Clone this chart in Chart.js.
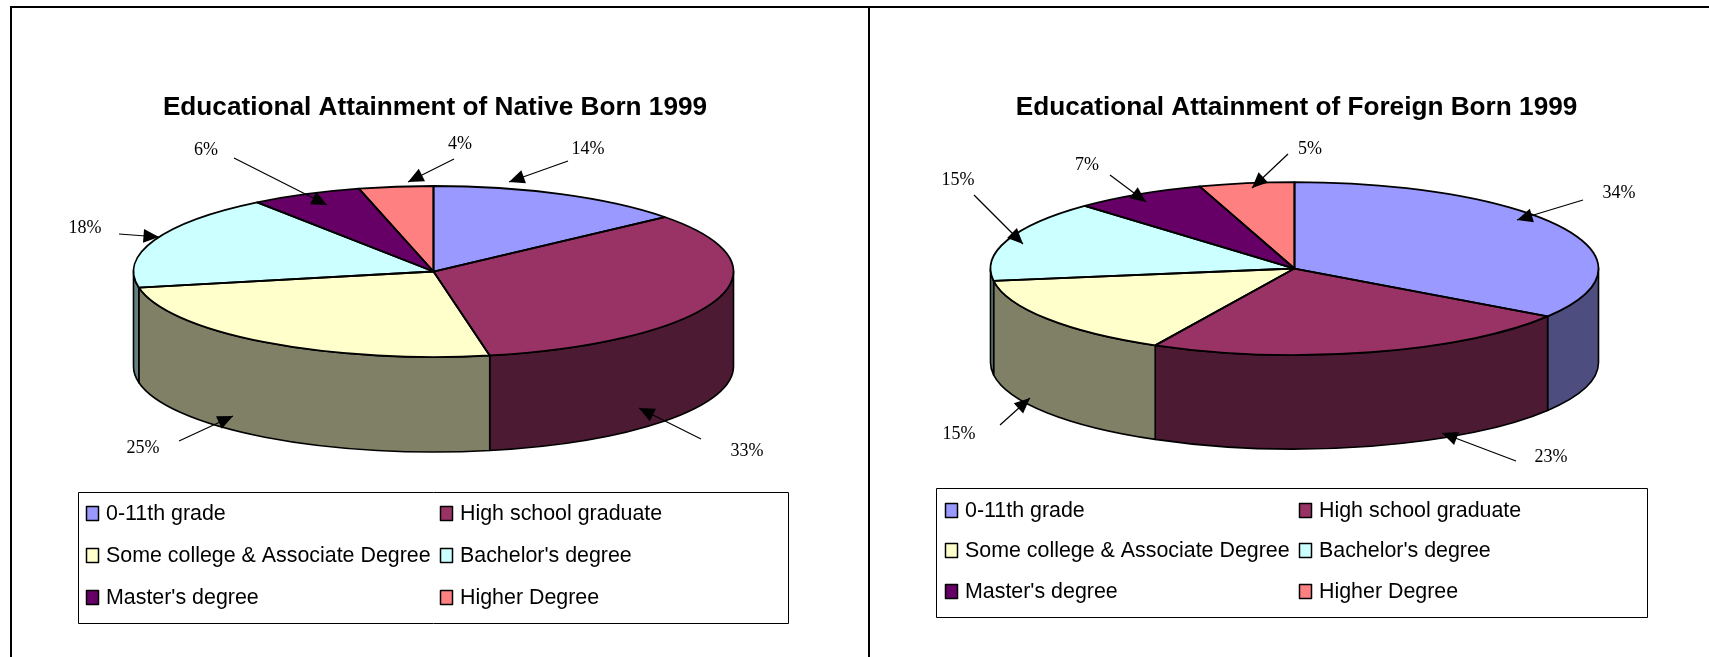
<!DOCTYPE html>
<html>
<head>
<meta charset="utf-8">
<script src="https://cdn.jsdelivr.net/npm/chart.js@4"></script>
<style>
  body { margin: 0; background: #fff; width: 1709px; height: 657px; overflow: hidden; position: relative; }
  canvas { position: absolute; top: 0; }
  .rule { position: absolute; background: #000; }
</style>
</head>
<body>
<div class="rule" style="left:10px;top:6px;width:1699px;height:2px"></div>
<div class="rule" style="left:10px;top:6px;width:2px;height:651px"></div>
<div class="rule" style="left:868px;top:6px;width:2px;height:651px"></div>
<canvas id="native" width="868" height="657" style="left:0"></canvas>
<canvas id="foreign" width="839" height="657" style="left:870px"></canvas>
<script>
const categories = ['0-11th grade', 'High school graduate', 'Some college & Associate Degree',
  "Bachelor's degree", "Master's degree", 'Higher Degree'];
const nativeValues = [14, 33, 25, 18, 6, 4];
const foreignValues = [34, 23, 15, 15, 7, 5];
const colors = ['#9999ff', '#993366', '#ffffcc', '#ccffff', '#660066', '#ff8080'];

// annotation layout, canvas px: [label x, label y, arrow from x, from y, tip x, tip y]
const nativeCallouts = [
  [588, 149, 568, 161, 509, 182],
  [747, 451, 701, 439, 639, 408],
  [143, 448, 179, 441, 233, 416],
  [85, 228, 119, 234, 159, 237],
  [206, 150, 234, 158, 327, 205],
  [460, 144, 454, 159, 408, 182]
];
const foreignCallouts = [
  [749, 193, 713, 200, 647, 220],
  [681, 457, 646, 461, 572, 433],
  [89, 434, 130, 425, 160, 398],
  [88, 180, 104, 195, 153, 244],
  [217, 165, 240, 175, 276, 202],
  [440, 149, 418, 154, 382, 188]
];

function darker(hex) {
  const n = parseInt(hex.slice(1), 16);
  return 'rgb(' + (n >> 16) / 2 + ',' + ((n >> 8) & 255) / 2 + ',' + (n & 255) / 2 + ')';
}

// ellipse path for a slice, stroked afterwards so the line keeps an even width
function ellipseArc(ctx, arc, squash, from, to, yOff, back) {
  ctx.ellipse(arc.x, arc.y + yOff, arc.outerRadius, arc.outerRadius * squash, 0, from, to, back);
}

const pie3d = {
  id: 'pie3d',
  afterLayout(chart, args, opts) {
    chart.titleBlock.left += opts.titleShift;
    chart.titleBlock.right += opts.titleShift;
  },
  beforeDatasetsDraw(chart, args, opts) {
    const ctx = chart.ctx;
    const arcs = chart.getDatasetMeta(0).data;
    ctx.lineWidth = 1.6;
    ctx.strokeStyle = '#000';
    ctx.lineJoin = 'round';
    // side wall, only the front half of the ellipse can be seen
    arcs.forEach((arc, i) => {
      const from = Math.max(arc.startAngle, 0);
      const to = Math.min(arc.endAngle, Math.PI);
      if (to <= from) return;
      ctx.beginPath();
      ellipseArc(ctx, arc, opts.squash, from, to, 0, false);
      ellipseArc(ctx, arc, opts.squash, to, from, opts.depth, true);
      ctx.closePath();
      ctx.fillStyle = darker(colors[i]);
      ctx.fill();
      ctx.stroke();
    });
    const a = arcs[0];
    ctx.save();
    ctx.translate(a.x, a.y);
    ctx.scale(1, opts.squash);
    ctx.translate(-a.x, -a.y);
  },
  afterDatasetsDraw(chart, args, opts) {
    const ctx = chart.ctx;
    ctx.restore();
    chart.getDatasetMeta(0).data.forEach((arc) => {
      ctx.beginPath();
      ctx.moveTo(arc.x, arc.y);
      ellipseArc(ctx, arc, opts.squash, arc.startAngle, arc.endAngle, 0, false);
      ctx.closePath();
      ctx.lineWidth = 1.8;
      ctx.strokeStyle = '#000';
      ctx.stroke();
    });
    drawCallouts(chart, opts);
    drawLegend(chart, opts.legend);
  }
};

function drawCallouts(chart, opts) {
  const ctx = chart.ctx;
  const values = chart.data.datasets[0].data;
  ctx.textAlign = 'center';
  ctx.textBaseline = 'middle';
  ctx.font = '18px "Liberation Serif"';
  opts.callouts.forEach((c, i) => {
    ctx.fillStyle = '#000';
    ctx.fillText(values[i] + '%', c[0], c[1]);
    const ang = Math.atan2(c[5] - c[3], c[4] - c[2]);
    ctx.beginPath();
    ctx.moveTo(c[2], c[3]);
    ctx.lineTo(c[4], c[5]);
    ctx.lineWidth = 1.2;
    ctx.stroke();
    ctx.beginPath();
    ctx.moveTo(c[4], c[5]);
    ctx.lineTo(c[4] - 17 * Math.cos(ang - 0.42), c[5] - 17 * Math.sin(ang - 0.42));
    ctx.lineTo(c[4] - 17 * Math.cos(ang + 0.42), c[5] - 17 * Math.sin(ang + 0.42));
    ctx.closePath();
    ctx.fill();
  });
}

function drawLegend(chart, l) {
  const ctx = chart.ctx;
  ctx.lineWidth = 1;
  ctx.strokeStyle = '#000';
  ctx.strokeRect(l.x + 0.5, l.y + 0.5, l.w, l.h);
  ctx.textAlign = 'left';
  ctx.textBaseline = 'middle';
  ctx.font = '21.4px "Liberation Sans"';
  chart.data.labels.forEach((name, i) => {
    const x = l.cols[i % 2];
    const y = l.rows[Math.floor(i / 2)];
    ctx.fillStyle = colors[i];
    ctx.fillRect(x + 0.5, y - 7.5, 12, 14);
    ctx.lineWidth = 1.5;
    ctx.strokeRect(x + 0.5, y - 7.5, 12, 14);
    ctx.fillStyle = '#000';
    ctx.fillText(name, x + 20, y);
  });
}

function buildPie(id, values, opts) {
  new Chart(document.getElementById(id), {
    type: 'pie',
    data: {
      labels: categories,
      datasets: [{ data: values, backgroundColor: colors, borderWidth: 0, clip: false }]
    },
    options: {
      responsive: false,
      animation: false,
      radius: opts.radius,
      layout: { padding: opts.padding },
      plugins: {
        legend: { display: false },
        tooltip: { enabled: false },
        title: {
          display: true,
          text: opts.title,
          color: '#000',
          font: { family: 'Liberation Sans', size: 26.2, weight: 'bold', lineHeight: 1.2 },
          padding: { top: 92, bottom: 1.6 }
        },
        pie3d: opts
      }
    },
    plugins: [pie3d]
  });
}

buildPie('native', nativeValues, {
  title: 'Educational Attainment of Native Born 1999',
  radius: 300, squash: 0.285, depth: 95, titleShift: 1.5,
  padding: { left: 0, right: 1, top: 0, bottom: 239 },
  callouts: nativeCallouts,
  legend: { x: 78, y: 492, w: 710, h: 131, cols: [86, 440], rows: [514, 556, 598] }
});
buildPie('foreign', foreignValues, {
  title: 'Educational Attainment of Foreign Born 1999',
  radius: 304, squash: 0.2845, depth: 94, titleShift: 2,
  padding: { left: 10, right: 0, top: 0, bottom: 245 },
  callouts: foreignCallouts,
  legend: { x: 66, y: 488, w: 711, h: 129, cols: [75, 429], rows: [511, 551, 592] }
});
</script>
</body>
</html>
